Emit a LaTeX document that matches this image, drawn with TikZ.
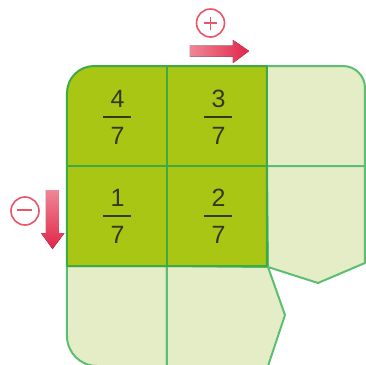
\documentclass[tikz,border=0pt]{standalone}
\usepackage{fontspec}
\setmainfont{Liberation Sans}
\usetikzlibrary{positioning}
\definecolor{leafgreen}{HTML}{A9C615}
\definecolor{palegreen}{HTML}{E5EDC6}
\definecolor{edgegreen}{HTML}{5CBE74}
\definecolor{gridgreen}{HTML}{3FAA45}
\definecolor{signred}{HTML}{E3244A}
\definecolor{signpink}{HTML}{EE8796}
\definecolor{ringred}{HTML}{EC5468}
\definecolor{digitgray}{HTML}{33391A}
\tikzset{
    cell/.style={fill=palegreen, draw=edgegreen, line width=1pt, line join=round},
    darkcell/.style={fill=leafgreen, draw=gridgreen, line width=1pt, line join=round},
    gridline/.style={draw=gridgreen, line width=0.8pt},
    digit/.style={text=digitgray, font=\fontsize{12.5}{15}\selectfont, inner sep=0pt},
    fracbar/.style={draw=digitgray, line width=0.9pt},
    sign/.style={draw=ringred, line width=0.8pt}
}
\begin{document}
\begin{tikzpicture}[x=0.5pt, y=-0.5pt]
    \clip (0,0) rectangle (366,365);

    % pale cells round the shaded block
    \path[cell] (267,166) -- (267,66) -- (343,66) arc[start angle=-90, end angle=0, radius=22] -- (365,166) -- cycle;
    \path[cell] (267,166) -- (365,166) -- (365,263) -- (318,283) -- (268,267) -- cycle;
    \path[cell] (67,266) -- (167,266) -- (167,372) -- (97,366) arc[start angle=90, end angle=180, radius=30] -- cycle;
    \path[cell] (167,266) -- (268,267) -- (285,315) -- (266,372) -- (167,372) -- cycle;

    % shaded block of four cells
    \path[darkcell] (67,266) -- (67,93) arc[start angle=180, end angle=270, radius=27] -- (267,66) -- (267,266) -- cycle;
    \draw[gridline] (167,66) -- (167,266);
    \draw[gridline] (67,166) -- (267,166);

    % fractions
    \node[digit] (num4) at (117.5,99) {4};
    \node[digit] (den4) at (117.5,135.5) {7};
    \draw[fracbar] (103.5,117) -- (131.5,117);
    \node[digit] (num3) at (218.5,99) {3};
    \node[digit] (den3) at (218.5,135.5) {7};
    \draw[fracbar] (204.5,117) -- (232.5,117);
    \node[digit] (num1) at (117.5,198) {1};
    \node[digit] (den1) at (117.5,234.5) {7};
    \draw[fracbar] (103.5,216) -- (131.5,216);
    \node[digit] (num2) at (218.5,198) {2};
    \node[digit] (den2) at (218.5,234.5) {7};
    \draw[fracbar] (204.5,216) -- (232.5,216);

    % plus sign and arrow
    \draw[sign] (210.5,23) circle[radius=14];
    \draw[sign] (204,23) -- (217,23) (210.5,16.5) -- (210.5,29.5);
    \fill[left color=signpink, right color=signred]
        (190,45.5) -- (233,45.5) -- (233,40) -- (249,51) -- (233,63) -- (233,56.5) -- (190,56.5) -- cycle;

    % minus sign and arrow
    \draw[sign] (25,211) circle[radius=14];
    \draw[sign] (17.5,210) -- (32.5,210);
    \fill[top color=signpink, bottom color=signred]
        (46,190) -- (59,190) -- (59,233) -- (64.5,233) -- (52.5,249) -- (41,233) -- (46,233) -- cycle;
\end{tikzpicture}
\end{document}
